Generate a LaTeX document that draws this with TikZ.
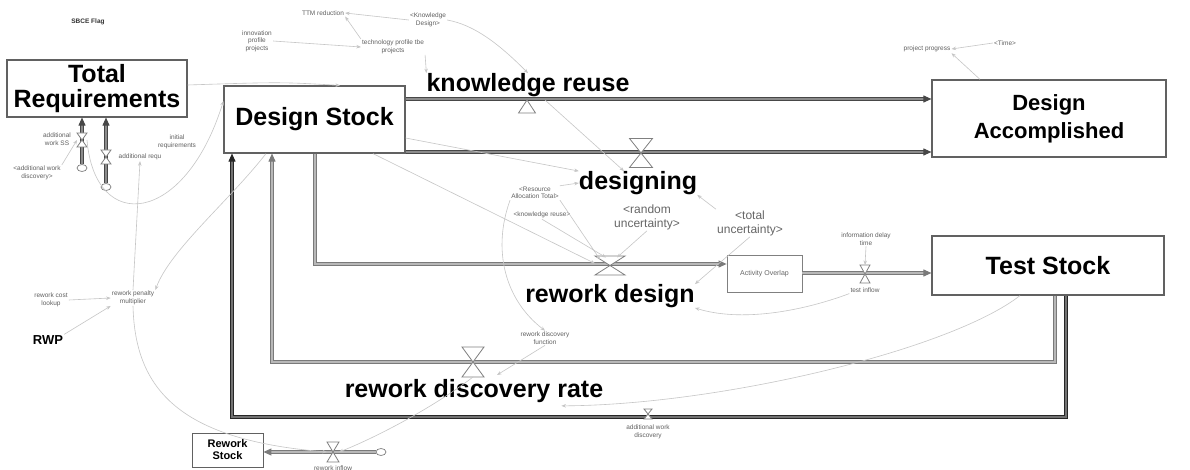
\documentclass[tikz,border=0pt]{standalone}
\usepackage{fontspec}
\setmainfont{Liberation Sans}
\usetikzlibrary{arrows.meta,shapes.geometric}

% hourglass valve centred on a named coordinate: #1 name, #2 half width, #3 half height
\newcommand\valveat[3]{%
  \draw[valve, shift={(#1)}] (-#2,-#3) -- (#2,-#3) -- (-#2,#3) -- (#2,#3) -- cycle;}

\begin{document}
\begin{tikzpicture}[x=1pt,y=-1pt,
  stock/.style={draw=black!62, line width=1.2pt, fill=white, inner sep=0pt, align=center,
                font=\bfseries\fontsize{25}{28}\selectfont},
  big/.style={font=\bfseries\fontsize{25}{28}\selectfont, inner sep=0pt},
  lab/.style={font=\fontsize{6.5}{7.5}\selectfont, text=gray!75!black, align=center, inner sep=1pt},
  shadowvar/.style={font=\fontsize{12}{14}\selectfont, text=gray!80!black, align=center, inner sep=1pt},
  pipe/.style={draw=black!52, double=black!28, double distance=1.2pt, line width=1pt},
  mainpipe/.style={draw=black!72, double=black!45, double distance=1.2pt, line width=1pt},
  darkpipe/.style={draw=black!85, double=black!55, double distance=1.2pt, line width=1pt},
  tip/.style={-{Triangle[length=8pt,width=7pt]}},
  info/.style={draw=gray!45, line width=0.6pt, -{Stealth[length=4.5pt,width=3.5pt]}},
  valve/.style={draw=black!50, fill=white, line width=0.8pt},
  cloudnode/.style={draw=black!50, fill=white, ellipse, minimum width=10pt, minimum height=7pt,
                    inner sep=0pt, line width=0.7pt}
]
\useasboundingbox[fill=white] (0,0) rectangle (1190,470);

% ---------- stocks ----------
\node[stock, minimum width=180pt, minimum height=57pt] (TR) at (97,88.5) {Total\\[-3pt]Requirements};
\node[stock, minimum width=181pt, minimum height=67pt] (DS) at (314.5,119.5) {Design Stock};
\node[stock, minimum width=234pt, minimum height=77pt, font=\bfseries\fontsize{22}{28}\selectfont]
      (DA) at (1049,118.5) {Design\\Accomplished};
\node[stock, minimum width=232pt, minimum height=59pt] (TS) at (1048,265.5) {Test Stock};
\node[stock, minimum width=71pt, minimum height=34pt, line width=0.9pt,
      font=\bfseries\fontsize{11}{12}\selectfont] (RS) at (227.5,450) {Rework\\Stock};
\node[draw=black!50, line width=0.8pt, minimum width=75pt, minimum height=37pt, inner sep=0pt,
      font=\fontsize{7}{8}\selectfont, text=gray!80!black] (AO) at (764.5,273.5) {Activity Overlap};

% ---------- rate labels ----------
\node[big] (kru) at (528,85) {knowledge reuse};
\node[big] (dsg) at (638,183) {designing};
\node[big] (rd)  at (610,296) {rework design};
\node[big] (rdr) at (474,391) {rework discovery rate};

% ---------- small variables ----------
\node[lab, font=\bfseries\fontsize{6.5}{7.5}\selectfont, text=black!80] (sbce) at (88,22) {SBCE Flag};
\node[lab] (ttm)   at (323,13)  {TTM reduction};
\node[lab] (kd)    at (428,20)  {<Knowledge\\Design>};
\node[lab] (innov) at (257,41)  {innovation\\profile\\projects};
\node[lab] (tech)  at (393,47)  {technology profile tbe\\projects};
\node[lab] (pp)    at (927,49)  {project progress};
\node[lab] (time)  at (1005,43) {<Time>};
\node[lab] (aws)   at (57,139)  {additional\\work SS};
\node[lab] (awd)   at (37,173)  {<additional work\\discovery>};
\node[lab] (areq)  at (140,157) {additional requ};
\node[lab] (ireq)  at (177,142) {initial\\requirements};
\node[lab] (rat)   at (535,193) {<Resource\\Allocation Total>};
\node[lab] (kr)    at (542,215) {<knowledge reuse>};
\node[shadowvar] (ru) at (647,217) {<random\\uncertainty>};
\node[shadowvar] (tu) at (750,223) {<total\\uncertainty>};
\node[lab] (idt)   at (866,239) {information delay\\time};
\node[lab] (ti)    at (865,290) {test inflow};
\node[lab] (rcl)   at (51,300)  {rework cost\\lookup};
\node[lab] (rpm)   at (133,298) {rework penalty\\multiplier};
\node[lab] (rdf)   at (545,338) {rework discovery\\function};
\node[lab] (awdv)  at (648,432) {additional work\\discovery};
\node[lab] (ri)    at (333,468) {rework inflow};
\node[font=\bfseries\fontsize{13}{14}\selectfont, inner sep=1pt] (rwp) at (48,340) {RWP};

% ---------- valves and clouds ----------
\coordinate (vKR)  at (527,100);
\coordinate (vD)   at (641,153);
\coordinate (vRD)  at (610,265.5);
\coordinate (vTI)  at (865,274);
\coordinate (vRDR) at (473,362);
\coordinate (vAWD) at (648,414);
\coordinate (vRI)  at (333,452);
\coordinate (vAWS) at (82,140);
\coordinate (vAR)  at (106,157);
\coordinate (k4)   at (272,362);
\coordinate (k5)   at (232,417);
\node[cloudnode] (c1) at (82,168) {};
\node[cloudnode] (c2) at (106,187) {};
\node[cloudnode] (c3) at (381,452) {};

% ---------- flows ----------
\draw[mainpipe, tip] (DS.east |- 0,99) -- (DA.west |- 0,99);
\draw[mainpipe, tip] (DS.east |- 0,152) -- (DA.west |- 0,152);
\draw[pipe, tip] (DS.south -| 315,0) |- (AO.west |- 0,264);
\draw[pipe, tip] (AO.east |- 0,273) -- (TS.west |- 0,273);
\draw[pipe, tip] (TS.south -| 1055,0) |- (k4) -- (DS.south -| k4);
\draw[darkpipe, tip] (TS.south -| 1066,0) |- (k5) -- (DS.south -| k5);
\draw[pipe, tip] (c3) -- (RS.east |- c3);
\draw[mainpipe, tip] (c1) -- (TR.south -| c1);
\draw[mainpipe, tip] (c2) -- (TR.south -| c2);

\draw[valve] (vKR) -- ++(-8.5,13) -- ++(17,0) -- cycle;
\valveat{vD}{11.5}{14.5}
\valveat{vRD}{15}{9.5}
\valveat{vTI}{5}{9}
\valveat{vRDR}{11}{15}
\valveat{vAWD}{4}{5}
\valveat{vRI}{6}{10}
\valveat{vAWS}{5}{7}
\valveat{vAR}{5}{7}

% ---------- information links ----------
\draw[info] (kd.west) -- (ttm.east);
\draw[info] (tech.north west) -- (ttm.south east);
\draw[info] (innov.east) -- (tech.west);
\draw[info] (kd.east) .. controls (475,25) and (500,45) .. (kru.north);
\draw[info] (tech.south east) -- (kru.north west);
\draw[info] (TR.east |- 0,85) .. controls (280,82) .. (DS.north -| 340,0);
\draw[info] (DA.north -| 980,0) -- (pp.south east);
\draw[info] (time.west) -- (pp.east);
\draw[info] (DS.east |- 0,138) -- (dsg.north west);
\draw[info] ([xshift=18pt]vKR) -- ([xshift=-14pt]dsg.north);
\draw[info] (rat.north east) -- (dsg.west);
\draw[info] (tu.north west) -- (dsg.south east);
\draw[info] (DS.south -| 373,0) -- ([xshift=-15pt,yshift=2pt]vRD);
\draw[info] (rat.south east) -- ([xshift=-10pt,yshift=6pt]vRD);
\draw[info] (kr.south) -- ([xshift=-4pt,yshift=8pt]vRD);
\draw[info] (ru.south) -- ([xshift=7pt,yshift=8pt]vRD);
\draw[info] (tu.south) -- (rd.north east);
\draw[info] (idt.south) -- ([yshift=9pt]vTI);
\draw[info] (ti.south west) .. controls (800,312) and (740,322) .. (rd.south east);
\draw[info] (TS.south -| 1020,0) .. controls (950,350) and (720,405) .. ([xshift=-42pt,yshift=-3pt]rdr.south east);
\draw[info] (rdf.south) -- ([xshift=24pt,yshift=-13pt]vRDR);
\draw[info] (rat.south west) .. controls (492,250) and (505,300) .. (rdf.north);
\draw[info] (awd.north east) -- ([xshift=-5pt]vAWS);
\draw[info] ([xshift=5pt]vAWS) .. controls (95,235) and (185,225) .. (DS.west |- 0,101);
\draw[info] (rpm.north) -- (areq.south);
\draw[info] (DS.south -| 266,0) .. controls (230,200) and (170,250) .. (rpm.north east);
\draw[info] (rcl.east) -- (rpm.west);
\draw[info] (rwp.north east) -- (rpm.south west);
\draw[info] (rpm.south) .. controls (135,390) and (180,440) .. ([xshift=-6pt]vRI);
\draw[info] ([yshift=-15pt]vRDR) .. controls (430,410) and (370,440) .. ([xshift=6pt]vRI);
\end{tikzpicture}
\end{document}
